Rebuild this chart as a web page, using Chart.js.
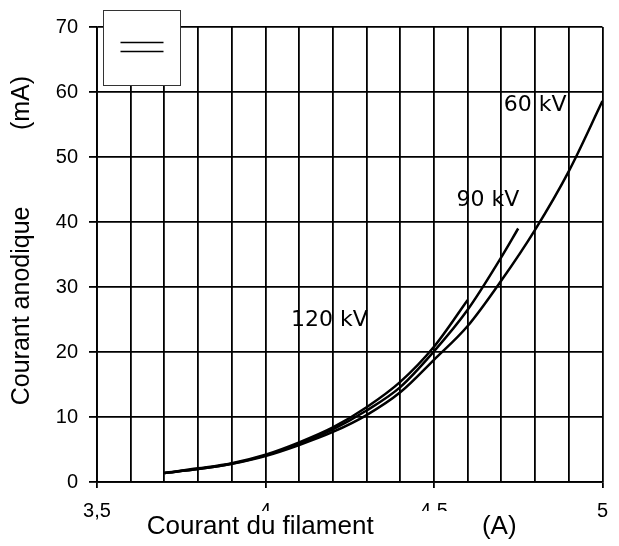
<!DOCTYPE html>
<html><head><meta charset="utf-8">
<script src="https://cdn.jsdelivr.net/npm/chart.js@4"></script>
<style>html,body{margin:0;padding:0;background:#fff}#wrap{width:619px;height:546px;position:relative}</style>
</head><body><div id="wrap"><canvas id="c"></canvas></div>
<script>
// ---- data ----
const current60 = [3.7, 3.8, 3.9, 4.0, 4.1, 4.2, 4.3, 4.4, 4.5, 4.6, 4.7, 4.8, 4.9, 5.0];
const anode60   = [1.4, 2.0, 2.8, 4.0, 5.7, 7.7, 10.3, 13.8, 18.8, 24.0, 31.0, 38.8, 47.8, 58.6];
const current90 = [3.7, 3.8, 3.9, 4.0, 4.1, 4.2, 4.3, 4.4, 4.5, 4.6, 4.7, 4.75];
const anode90   = [1.4, 2.0, 2.8, 4.1, 5.9, 8.1, 11.0, 14.6, 20.1, 26.5, 34.6, 39.0];
const current120 = [3.7, 3.8, 3.9, 4.0, 4.1, 4.2, 4.3, 4.4, 4.5, 4.6];
const anode120   = [1.4, 2.1, 2.9, 4.2, 6.1, 8.4, 11.5, 15.4, 20.8, 28.0];
const seriesNames = ['60 kV', '90 kV', '120 kV'];
const xTickValues = [3.5, 4.0, 4.5, 5.0];
const xTickLabels = ['3,5', '4', '4,5', '5'];
const yTickLabels = ['0', '10', '20', '30', '40', '50', '60', '70'];
const xTitle = 'Courant du filament';
const xUnit = '(A)';
const yTitle = 'Courant anodique';
const yUnit = '(mA)';

// ---- styles / positions (not data) ----
const seriesLabelPos = [{x: 4.80, y: 57.9}, {x: 4.66, y: 43.3}, {x: 4.19, y: 24.9}];
const LABEL_FONT = '22px "DejaVu Sans"';

function pts(xs, ys) { return xs.map((x, i) => ({x: x, y: ys[i]})); }

const lineStyle = {borderColor: '#000', borderWidth: 2.5, pointRadius: 0, fill: false,
  cubicInterpolationMode: 'monotone'};

const seriesLabelsPlugin = {
  id: 'seriesLabels',
  afterDatasetsDraw(chart) {
    const ctx = chart.ctx, sx = chart.scales.x, sy = chart.scales.y;
    ctx.save();
    ctx.font = LABEL_FONT; ctx.fillStyle = '#000';
    ctx.textAlign = 'center'; ctx.textBaseline = 'middle';
    chart.data.datasets.forEach((ds, i) => {
      const p = seriesLabelPos[i];
      ctx.fillText(ds.label, sx.getPixelForValue(p.x), sy.getPixelForValue(p.y));
    });
    ctx.restore();
  }
};

const legendBoxPlugin = {
  id: 'legendBox',
  afterDraw(chart) {
    const ctx = chart.ctx, a = chart.chartArea;
    const bx = a.left + 6.5, by = a.top - 16.5, bw = 77, bh = 75;
    ctx.save();
    ctx.fillStyle = '#fff'; ctx.fillRect(bx, by, bw, bh);
    ctx.strokeStyle = '#333'; ctx.lineWidth = 1; ctx.strokeRect(bx, by, bw, bh);
    ctx.strokeStyle = '#000'; ctx.lineWidth = 1.6;
    [32, 41].forEach(dy => {
      ctx.beginPath(); ctx.moveTo(bx + 17, by + dy); ctx.lineTo(bx + 60, by + dy); ctx.stroke();
    });
    ctx.restore();
  }
};

// white background behind the x-axis title (covers part of the tick labels, as in the reference)
const titleBgPlugin = {
  id: 'titleBg',
  beforeDraw(chart) {
    const sx = chart.scales.x;
    if (sx._titleBgPatched) return;
    const orig = sx.drawTitle.bind(sx);
    sx.drawTitle = function () {
      const ctx = this.ctx;
      const f = Chart.helpers.toFont(this.options.title.font);
      ctx.save();
      ctx.font = f.string;
      const w = ctx.measureText(this.options.title.text).width;
      const cx = (this.left + this.right) / 2;
      ctx.fillStyle = '#fff';
      ctx.fillRect(cx - w / 2 - 4, this.bottom - 35, w + 8, 35);
      ctx.restore();
      orig();
    };
    sx._titleBgPatched = true;
  }
};

new Chart(document.getElementById('c'), {
  type: 'line',
  data: {
    datasets: [
      Object.assign({label: seriesNames[0], data: pts(current60, anode60)}, lineStyle),
      Object.assign({label: seriesNames[1], data: pts(current90, anode90)}, lineStyle),
      Object.assign({label: seriesNames[2], data: pts(current120, anode120)}, lineStyle)
    ]
  },
  options: {
    responsive: true, maintainAspectRatio: false, animation: false,
    layout: {padding: {top: 27, right: 12, left: 0, bottom: 0}},
    plugins: {legend: {display: false}, tooltip: {enabled: false}},
    scales: {
      x: {
        type: 'linear', min: 3.5, max: 5.0,
        afterFit(s) { s.height = 64; },
        border: {color: '#000', width: 1.8},
        grid: {
          color: '#000', lineWidth: 1.8, drawTicks: true, tickLength: 6,
          tickColor: (c) => (c.tick && xTickValues.some(v => Math.abs(v - c.tick.value) < 1e-6)) ? '#000' : 'rgba(0,0,0,0)'
        },
        ticks: {
          stepSize: 0.1, autoSkip: false, maxRotation: 0, maxTicksLimit: 40, padding: 11, z: -2,
          color: '#000', font: {family: '"Liberation Sans", Arial', size: 20},
          callback(v) {
            const i = xTickValues.findIndex(t => Math.abs(t - v) < 1e-6);
            return i >= 0 ? xTickLabels[i] : '';
          }
        },
        title: {
          display: true, text: xTitle + ' '.repeat(15) + xUnit + ' '.repeat(5),
          color: '#000', font: {family: '"Liberation Sans", Arial', size: 26}, padding: {top: 0, bottom: 4}
        }
      },
      y: {
        type: 'linear', min: 0, max: 70,
        afterFit(s) { s.width = 97; },
        border: {color: '#000', width: 1.8},
        grid: {color: '#000', lineWidth: 1.8, drawTicks: true, tickLength: 8, tickColor: '#000'},
        ticks: {
          stepSize: 10, padding: 11, color: '#000',
          font: {family: '"Liberation Sans", Arial', size: 20},
          callback(v) { return yTickLabels[Math.round(v / 10)]; }
        },
        title: {
          display: true, text: ' '.repeat(4) + yTitle + ' '.repeat(11) + yUnit,
          color: '#000', font: {family: '"Liberation Sans", Arial', size: 25}, padding: {top: 7, bottom: 0}
        }
      }
    }
  },
  plugins: [titleBgPlugin, seriesLabelsPlugin, legendBoxPlugin]
});
</script>
</body></html>
